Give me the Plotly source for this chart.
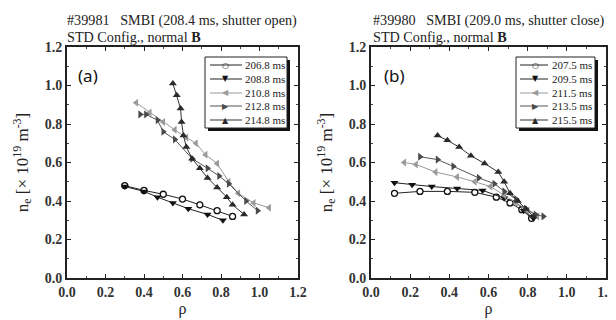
import plotly.graph_objects as go

# ---------------- data (panel a: #39981) ----------------
a_labels = ["206.8 ms", "208.8 ms", "210.8 ms", "212.8 ms", "214.8 ms"]
a_rho_1 = [0.30, 0.40, 0.50, 0.60, 0.69, 0.78, 0.86]
a_ne_1 = [0.48, 0.455, 0.435, 0.41, 0.38, 0.35, 0.32]
a_rho_2 = [0.30, 0.40, 0.47, 0.55, 0.63, 0.73, 0.81]
a_ne_2 = [0.475, 0.45, 0.42, 0.39, 0.36, 0.33, 0.30]
a_rho_3 = [0.36, 0.43, 0.50, 0.56, 0.62, 0.67, 0.72, 0.78, 0.84, 0.89, 0.97, 1.05]
a_ne_3 = [0.91, 0.86, 0.81, 0.77, 0.73, 0.70, 0.64, 0.595, 0.50, 0.44, 0.39, 0.365]
a_rho_4 = [0.38, 0.41, 0.47, 0.50, 0.56, 0.65, 0.73, 0.79, 0.84, 0.93, 0.99]
a_ne_4 = [0.85, 0.85, 0.82, 0.76, 0.72, 0.62, 0.57, 0.53, 0.49, 0.40, 0.35]
a_rho_5 = [0.55, 0.57, 0.59, 0.595, 0.605, 0.62, 0.65, 0.69, 0.73, 0.78, 0.83, 0.86, 0.92]
a_ne_5 = [1.01, 0.95, 0.88, 0.81, 0.74, 0.68, 0.62, 0.57, 0.52, 0.47, 0.42, 0.38, 0.33]

# ---------------- data (panel b: #39980) ----------------
b_labels = ["207.5 ms", "209.5 ms", "211.5 ms", "213.5 ms", "215.5 ms"]
b_rho_1 = [0.12, 0.25, 0.39, 0.53, 0.64, 0.71, 0.77, 0.82]
b_ne_1 = [0.44, 0.45, 0.45, 0.445, 0.42, 0.39, 0.355, 0.31]
b_rho_2 = [0.12, 0.21, 0.31, 0.44, 0.57, 0.68, 0.74, 0.78, 0.83]
b_ne_2 = [0.495, 0.485, 0.475, 0.465, 0.455, 0.415, 0.395, 0.35, 0.31]
b_rho_3 = [0.17, 0.23, 0.33, 0.44, 0.53, 0.61, 0.68, 0.74, 0.80, 0.85]
b_ne_3 = [0.60, 0.59, 0.55, 0.525, 0.50, 0.475, 0.43, 0.39, 0.35, 0.32]
b_rho_4 = [0.25, 0.34, 0.42, 0.55, 0.63, 0.68, 0.74, 0.79, 0.84, 0.88]
b_ne_4 = [0.63, 0.615, 0.58, 0.52, 0.49, 0.45, 0.41, 0.36, 0.33, 0.32]
b_rho_5 = [0.34, 0.39, 0.45, 0.51, 0.58, 0.65, 0.68, 0.71, 0.75, 0.79, 0.83]
b_ne_5 = [0.74, 0.715, 0.68, 0.635, 0.595, 0.55, 0.50, 0.44, 0.40, 0.36, 0.32]

tick_vals = [0.0, 0.2, 0.4, 0.6, 0.8, 1.0, 1.2]
tick_text = ["0.0", "0.2", "0.4", "0.6", "0.8", "1.0", "1.2"]

styles = [
    dict(symbol="circle", glyph="○", line="#222222", fill="white", edge="#111111"),
    dict(symbol="triangle-down", glyph="▼", line="#222222", fill="#111111", edge="#111111"),
    dict(symbol="triangle-left", glyph="◀", line="#9a9a9a", fill="#9a9a9a", edge="#9a9a9a"),
    dict(symbol="triangle-right", glyph="▶", line="#555555", fill="#4a4a4a", edge="#4a4a4a"),
    dict(symbol="triangle-up", glyph="▲", line="#333333", fill="#2a2a2a", edge="#2a2a2a"),
]

SERIF = "Liberation Serif"
OFF = 8                      # default page margin of the html body
W, H = 616 - OFF, 320 - OFF  # figure fits inside the window
fig = go.Figure()

def px(x):
    return (x - OFF) / W

def py(y):
    return 1 - (y - OFF) / H

panels = [
    ("x", "y", a_labels,
     [(a_rho_1, a_ne_1), (a_rho_2, a_ne_2), (a_rho_3, a_ne_3), (a_rho_4, a_ne_4), (a_rho_5, a_ne_5)]),
    ("x2", "y2", b_labels,
     [(b_rho_1, b_ne_1), (b_rho_2, b_ne_2), (b_rho_3, b_ne_3), (b_rho_4, b_ne_4), (b_rho_5, b_ne_5)]),
]
for xa, ya, labels, series in panels:
    for (rho, ne), lab, st in zip(series, labels, styles):
        if st["symbol"] == "circle":
            marker = dict(symbol="circle", size=6, color="white",
                          line=dict(color=st["edge"], width=1.3))
        else:
            marker = dict(symbol=st["symbol"], size=7, color=st["fill"],
                          line=dict(color=st["fill"], width=0))
        fig.add_trace(go.Scatter(
            x=rho, y=ne, name=lab, mode="lines+markers", xaxis=xa, yaxis=ya,
            showlegend=False, line=dict(color=st["line"], width=1), marker=marker))

axis_common = dict(
    range=[0, 1.2], tickvals=tick_vals, ticktext=[f"<b>{t}</b>" for t in tick_text],
    ticks="inside", ticklen=4, tickwidth=1.3, tickcolor="#222",
    showline=True, linecolor="#222", linewidth=2, mirror="ticks",
    showgrid=False, zeroline=False, automargin=False,
    tickfont=dict(family=SERIF, size=14, color="#333"),
    minor=dict(ticks="inside", ticklen=2, tickwidth=1, tickcolor="#444", dtick=0.1),
)

yt = dict(text="n<sub>e</sub> [× 10<sup>19</sup> m<sup>-3</sup>]",
          font=dict(family=SERIF, size=17, color="#222"), standoff=12)
xt = dict(text="ρ", font=dict(family=SERIF, size=16, color="#222"), standoff=1)

fig.update_layout(
    width=W, height=H,
    margin=dict(l=0, r=0, t=0, b=0),
    paper_bgcolor="white", plot_bgcolor="white",
    xaxis=dict(domain=[px(67), px(298)], anchor="y", title=xt, **axis_common),
    yaxis=dict(domain=[py(278), py(47)], anchor="x", title=yt, **axis_common),
    xaxis2=dict(domain=[px(371), px(606)], anchor="y2", title=xt, **axis_common),
    yaxis2=dict(domain=[py(278), py(47)], anchor="x2", title=yt, **axis_common),
    showlegend=False,
)

title_font = dict(family=SERIF, size=14.2, color="#222")
ann = []
shapes = []
for x0, shot, smbi in [(65, "#39981", "SMBI (208.4 ms, shutter open)"),
                       (371, "#39980", "SMBI (209.0 ms, shutter close)")]:
    ann.append(dict(x=px(x0), y=py(21), xref="paper", yref="paper", xanchor="left", yanchor="middle",
                    text=f"{shot}   {smbi}", showarrow=False, font=title_font))
    ann.append(dict(x=px(x0), y=py(37), xref="paper", yref="paper", xanchor="left", yanchor="middle",
                    text="STD Config., normal <b>B</b>", showarrow=False, font=title_font))
for x0, lab in [(76, "(a)"), (382, "(b)")]:
    ann.append(dict(x=px(x0), y=py(75), xref="paper", yref="paper", xanchor="left", yanchor="middle",
                    text=lab, showarrow=False, font=dict(family="Noto Sans", size=17, color="#111")))

# hand-built legends (box with drop shadow)
row_y = [65, 79, 93, 106, 120]
for (bx0, bx1, dl0, dl1, dm, dt), labels in [((205, 287, 5, 37, 20, 38), a_labels),
                                              ((516, 595, 4, 32, 19, 34), b_labels)]:
    by0, by1 = 57, 128
    shapes.append(dict(type="rect", xref="paper", yref="paper",
                       x0=px(bx0 + 3), x1=px(bx1 + 3), y0=py(by1 + 3), y1=py(by0 + 3),
                       fillcolor="#111", line=dict(width=0)))
    shapes.append(dict(type="rect", xref="paper", yref="paper",
                       x0=px(bx0), x1=px(bx1), y0=py(by1), y1=py(by0),
                       fillcolor="white", line=dict(color="#222", width=1)))
    for ry, lab, st in zip(row_y, labels, styles):
        shapes.append(dict(type="line", xref="paper", yref="paper",
                           x0=px(bx0 + dl0), x1=px(bx0 + dl1), y0=py(ry), y1=py(ry),
                           line=dict(color=st["line"], width=1)))
        ann.append(dict(x=px(bx0 + dm), y=py(ry), xref="paper", yref="paper",
                        xanchor="center", yanchor="middle", text=st["glyph"], showarrow=False,
                        font=dict(family="DejaVu Sans", size=8, color=st["edge"])))
        ann.append(dict(x=px(bx0 + dt), y=py(ry), xref="paper", yref="paper",
                        xanchor="left", yanchor="middle", text=lab, showarrow=False,
                        font=dict(family=SERIF, size=11, color="#222")))

fig.update_layout(annotations=ann, shapes=shapes)

fig.write_html("out.html")
